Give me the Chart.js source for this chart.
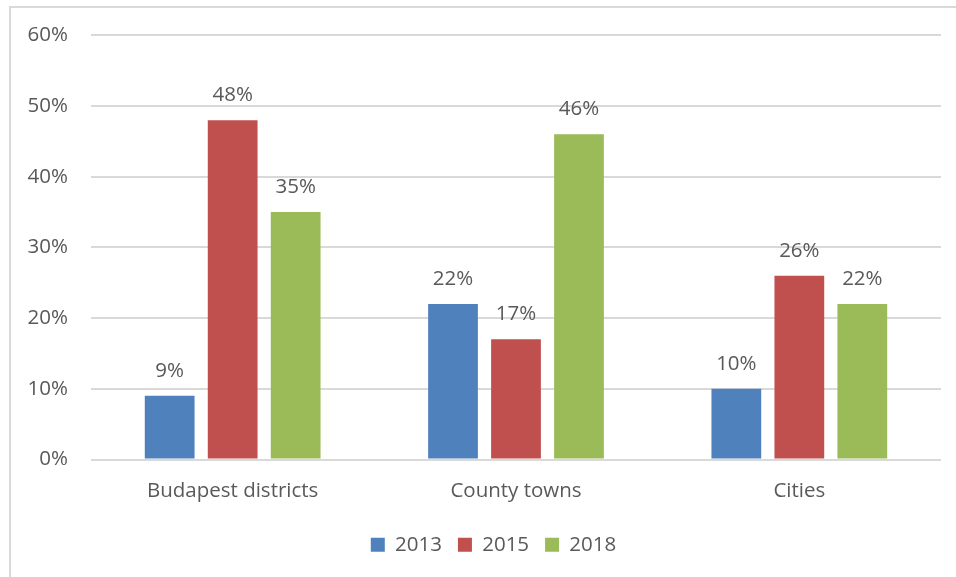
<!DOCTYPE html>
<html lang="en">
<head>
<meta charset="UTF-8">
<title>Chart</title>
<style>
  body { margin: 0; background: #fff; }
  #frame { position: absolute; left: 9px; top: 6px; width: 960px; height: 580px;
           border-left: 2px solid #d9d9d9; border-top: 2px solid #d9d9d9; }
  #wrap { position: absolute; left: 0; top: 0; width: 956px; height: 577px; }
</style>
</head>
<body>
<div id="frame"></div>
<div id="wrap"><canvas id="myChart"></canvas></div>
<script src="https://cdn.jsdelivr.net/npm/chart.js"></script>
<script>
// data
const categories = ['Budapest districts', 'County towns', 'Cities'];
const years = ['2013', '2015', '2018'];
const values2013 = [9, 22, 10];
const values2015 = [48, 17, 26];
const values2018 = [35, 46, 22];
const yTicks = [0, 10, 20, 30, 40, 50, 60];

const colors = ['#4F81BD', '#C0504D', '#9BBB59'];
const textColor = '#595959';
const fontFamily = '"Open Sans", sans-serif';
const fontSize = 20.5;

// value labels above bars
const barLabels = {
    id: 'barLabels',
    afterDatasetsDraw(chart) {
        const ctx = chart.ctx;
        ctx.save();
        ctx.font = fontSize + 'px ' + fontFamily;
        ctx.fillStyle = textColor;
        ctx.textAlign = 'center';
        ctx.textBaseline = 'middle';
        chart.data.datasets.forEach((ds, i) => {
            chart.getDatasetMeta(i).data.forEach((bar, j) => {
                ctx.fillText(ds.data[j] + '%', bar.x, bar.y - 25);
            });
        });
        ctx.restore();
    }
};

// legend is centred on the frame, not on the canvas
const shiftLegend = {
    id: 'shiftLegend',
    afterLayout(chart) {
        chart.legend.left += 23;
        chart.legend.right += 23;
    }
};

const data = {
    labels: categories,
    datasets: [
        { label: years[0], data: values2013, backgroundColor: colors[0] },
        { label: years[1], data: values2015, backgroundColor: colors[1] },
        { label: years[2], data: values2018, backgroundColor: colors[2] }
    ]
};

const config = {
    type: 'bar',
    data,
    options: {
        responsive: true,
        maintainAspectRatio: false,
        animation: false,
        categoryPercentage: 0.667,
        barPercentage: 0.79,
        layout: { padding: { top: 35, left: 0, right: 15, bottom: 12 } },
        plugins: {
            tooltip: { enabled: false },
            legend: {
                position: 'bottom',
                labels: {
                    boxWidth: 14,
                    boxHeight: 14,
                    padding: 16,
                    color: textColor,
                    font: { family: fontFamily, size: fontSize }
                }
            }
        },
        scales: {
            x: {
                grid: { display: false, drawTicks: false },
                border: { display: false },
                ticks: { color: textColor, padding: 19, font: { family: fontFamily, size: fontSize } },
                afterFit: s => { s.height = 59; }
            },
            y: {
                min: 0,
                max: 60,
                afterBuildTicks: s => { s.ticks = yTicks.map(v => ({ value: v })); },
                grid: { color: '#d9d9d9', lineWidth: 2, drawTicks: false },
                border: { display: false },
                ticks: {
                    color: textColor,
                    padding: 23,
                    font: { family: fontFamily, size: fontSize },
                    callback: v => v + '%'
                },
                afterFit: s => { s.width = 91; }
            }
        }
    },
    plugins: [barLabels, shiftLegend]
};

const myChart = new Chart(document.getElementById('myChart'), config);
</script>
</body>
</html>
